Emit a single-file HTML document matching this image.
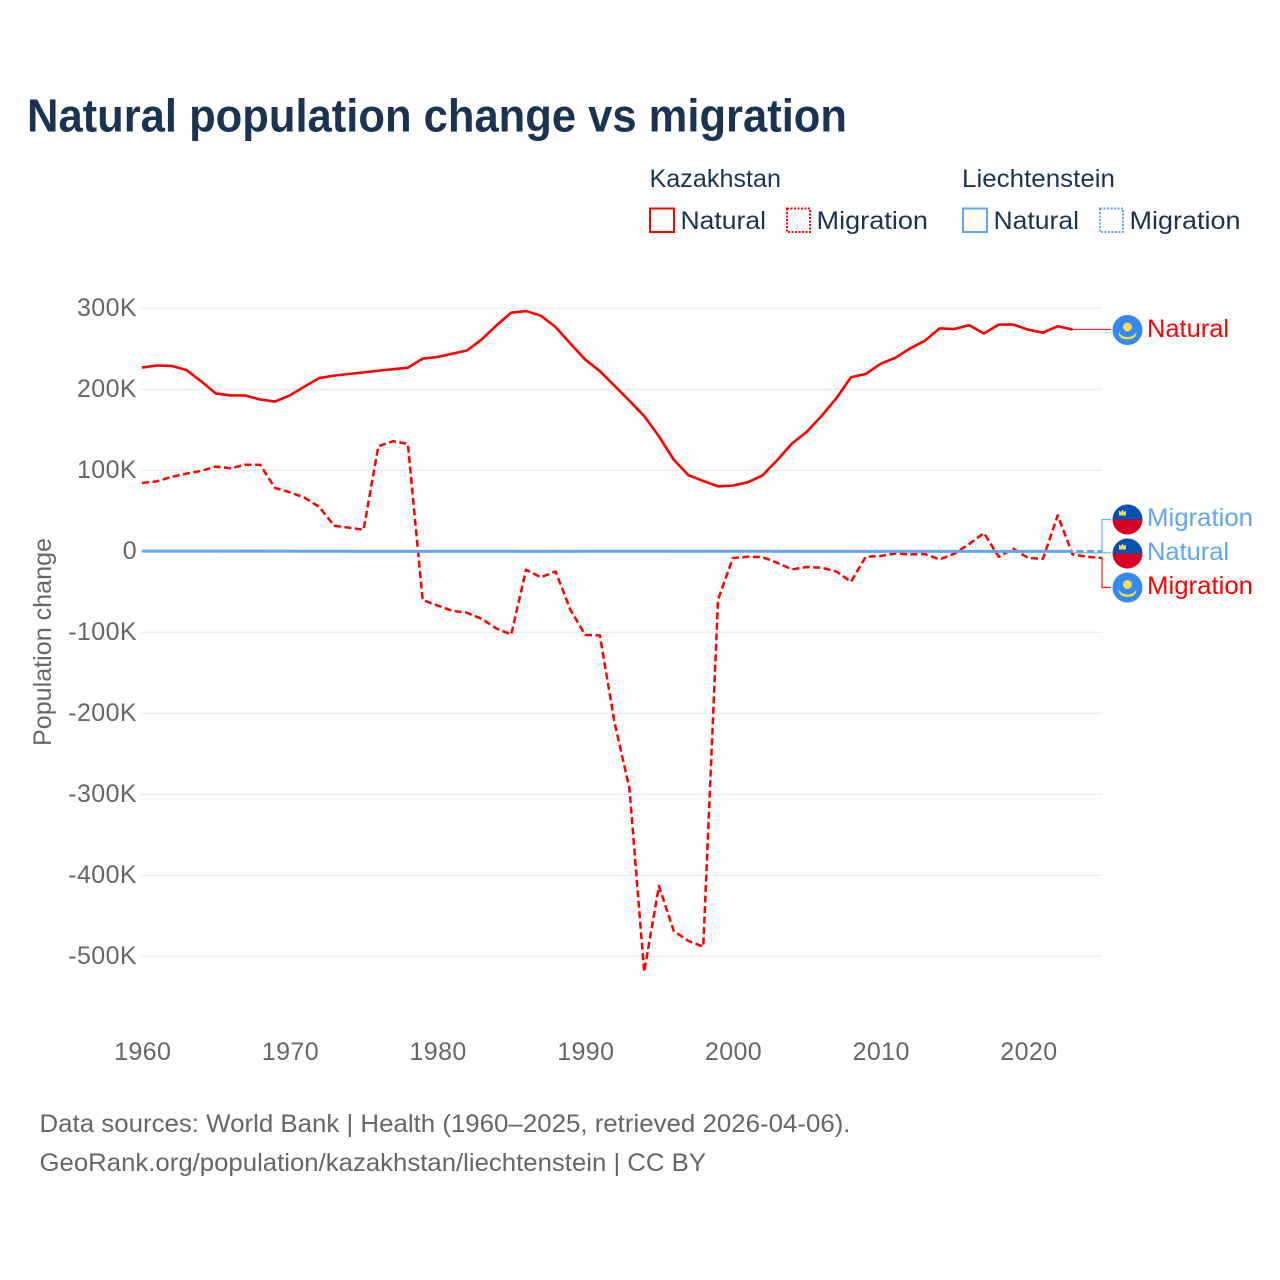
<!DOCTYPE html>
<html lang="en">
<head>
<meta charset="utf-8">
<title>Natural population change vs migration</title>
<style>
html,body{margin:0;padding:0;background:#fff;}
svg{display:block;font-family:"Liberation Sans",sans-serif;}
</style>
</head>
<body>
<svg id="chart" xmlns="http://www.w3.org/2000/svg" width="1280" height="1280" viewBox="0 0 1280 1280">
  <rect x="0" y="0" width="1280" height="1280" fill="#fff"/>
  <text x="27" y="131.500" font-size="46" font-weight="700" fill="#1a3353" textLength="820" lengthAdjust="spacingAndGlyphs">Natural population change vs migration</text>

  <g font-size="25" fill="#1a3353">
    <text x="649.500" y="187" textLength="131.500" lengthAdjust="spacingAndGlyphs">Kazakhstan</text>
    <text x="962" y="187" textLength="153" lengthAdjust="spacingAndGlyphs">Liechtenstein</text>
    <g>
      <rect x="650" y="208.500" width="24" height="23.500" fill="none" stroke="#ff0000" stroke-width="2"/>
      <text x="680.500" y="229" textLength="85.500" lengthAdjust="spacingAndGlyphs">Natural</text>
    </g>
    <g>
      <rect x="787" y="208.500" width="23" height="23.500" fill="none" stroke="#ff0000" stroke-width="2" stroke-dasharray="2,1.500"/>
      <text x="816.500" y="229" textLength="111.500" lengthAdjust="spacingAndGlyphs">Migration</text>
    </g>
    <g>
      <rect x="963" y="208.500" width="24" height="23.500" fill="none" stroke="#60a5f0" stroke-width="2"/>
      <text x="993.500" y="229" textLength="85.500" lengthAdjust="spacingAndGlyphs">Natural</text>
    </g>
    <g>
      <rect x="1100" y="208.500" width="23" height="23.500" fill="none" stroke="#60a5f0" stroke-width="2" stroke-dasharray="2,1.500"/>
      <text x="1129.500" y="229" textLength="111" lengthAdjust="spacingAndGlyphs">Migration</text>
    </g>
  </g>

  <g id="grid"></g>
  <g id="yticks"></g>
  <g id="xticks"></g>
  <text transform="translate(51,642) rotate(-90)" text-anchor="middle" font-size="25" fill="#666" textLength="208" lengthAdjust="spacingAndGlyphs">Population change</text>

  <g id="connectors"></g>
  <g id="series"></g>

  <defs>
    <clipPath id="flag-clip"><circle cx="0" cy="0" r="15"/></clipPath>
  </defs>
  <g>
    <g transform="translate(1127.500,330)">
      <circle r="15" fill="#338af3"/><circle cy="-3" r="4.500" fill="#ffda44"/><path d="M-9 2 Q-6 7 0 7 Q6 7 9 2 Q9 9 0 9.500 Q-9 9 -9 2Z" fill="#ffda44"/>
    </g>
    <text x="1147" y="337" font-size="25" fill="#ff0000" textLength="82" lengthAdjust="spacingAndGlyphs">Natural</text>
  </g>
  <g>
    <g transform="translate(1127.500,519.500)">
      <g clip-path="url(#flag-clip)"><rect x="-15" y="-15" width="30" height="15" fill="#0052b4"/><rect x="-15" y="0" width="30" height="15" fill="#d80027"/></g><path d="M-12.500-4h7v-5l-2 1.500-1.500-2.500-1.500 2.500-2-1.500z" fill="#ffda44" transform="translate(4,0)"/>
    </g>
    <text x="1147" y="526" font-size="25" fill="#60a5f0" textLength="106" lengthAdjust="spacingAndGlyphs">Migration</text>
  </g>
  <g>
    <g transform="translate(1127.500,553.500)">
      <g clip-path="url(#flag-clip)"><rect x="-15" y="-15" width="30" height="15" fill="#0052b4"/><rect x="-15" y="0" width="30" height="15" fill="#d80027"/></g><path d="M-12.500-4h7v-5l-2 1.500-1.500-2.500-1.500 2.500-2-1.500z" fill="#ffda44" transform="translate(4,0)"/>
    </g>
    <text x="1147" y="560" font-size="25" fill="#60a5f0" textLength="82" lengthAdjust="spacingAndGlyphs">Natural</text>
  </g>
  <g>
    <g transform="translate(1127.500,587.500)">
      <circle r="15" fill="#338af3"/><circle cy="-3" r="4.500" fill="#ffda44"/><path d="M-9 2 Q-6 7 0 7 Q6 7 9 2 Q9 9 0 9.500 Q-9 9 -9 2Z" fill="#ffda44"/>
    </g>
    <text x="1147" y="594" font-size="25" fill="#ff0000" textLength="106" lengthAdjust="spacingAndGlyphs">Migration</text>
  </g>

  <text x="39.500" y="1132" font-size="25" fill="#666" textLength="811" lengthAdjust="spacingAndGlyphs">Data sources: World Bank | Health (1960–2025, retrieved 2026-04-06).</text>
  <text x="39.500" y="1171" font-size="25" fill="#666" textLength="666.500" lengthAdjust="spacingAndGlyphs">GeoRank.org/population/kazakhstan/liechtenstein | CC BY</text>
</svg>
<script>
const startYear = 1960;
const yTickValues = [300, 200, 100, 0, -100, -200, -300, -400, -500];
const yTickLabels = ["300K", "200K", "100K", "0", "-100K", "-200K", "-300K", "-400K", "-500K"];
const xTickYears = [1960, 1970, 1980, 1990, 2000, 2010, 2020];

// All values in thousands of people, one per year from 1960.
const kazakhstanNatural = [227, 229.5, 229, 224, 210, 195, 192.5, 192.5, 187.5, 185,
  192.5, 203.5, 214, 217, 219, 221, 223, 225, 226.7, 238,
  240, 244, 248, 261.7, 279, 294.7, 296.7, 291, 277, 256.7,
  237, 222.5, 204.4, 186, 167, 142, 113.3, 94, 87, 80.3,
  81.2, 85.3, 93.6, 112.5, 133, 147.6, 167, 188.8, 215, 219,
  231.6, 239, 250.6, 260, 275.3, 274.5, 279.4, 269, 280, 280,
  273.7, 270, 278, 274];
const kazakhstanMigration = [84.5, 86.5, 92, 96, 99.4, 104.7, 102.6, 107, 107, 78.4,
  73, 66.4, 54.9, 31.8, 29.3, 26.8, 129.8, 136, 132.8, -60,
  -66.7, -73.3, -75.8, -83.2, -95.2, -102.6, -22.6, -32, -24.7, -72,
  -103, -103.8, -212, -292.5, -519, -413, -468.5, -481, -488, -59.7,
  -8.2, -6.6, -7, -14, -22.2, -19.3, -20.1, -24.7, -37.5, -6.6,
  -5.7, -2.5, -3.7, -3.2, -9.9, -2.8, 9, 22.7, -6.6, 3.3,
  -8.2, -9, 44.5, -3.7, -6.6, -8.2];
const liechtensteinNatural = [0.3, 0.3, 0.3, 0.3, 0.3, 0.3, 0.3, 0.3, 0.3, 0.3,
  0.3, 0.2, 0.2, 0.2, 0.2, 0.1, 0.1, 0.1, 0.1, 0.1,
  0.2, 0.2, 0.2, 0.2, 0.2, 0.2, 0.1, 0.1, 0.2, 0.1,
  0.2, 0.2, 0.2, 0.2, 0.2, 0.2, 0.2, 0.2, 0.2, 0.2,
  0.2, 0.2, 0.2, 0.1, 0.2, 0.1, 0.1, 0.1, 0.1, 0.1,
  0.1, 0.1, 0.1, 0.1, 0.1, 0.1, 0.1, 0.1, 0.1, 0.1,
  0.1, 0.1, 0.1, 0.1];
const liechtensteinMigration = [0.2, 0.2, 0.1, 0.2, 0.2, 0.1, 0.2, 0.3, 0.3, 0.2,
  0.1, 0.2, 0.2, 0.2, 0.1, 0, 0, 0, 0.1, 0,
  0.1, 0.1, 0, 0, 0.1, 0.1, 0.1, 0.1, 0.1, 0.2,
  0.2, 0.3, 0.2, 0.3, 0.2, 0.2, 0.1, 0.1, 0.1, 0.2,
  0.2, 0.3, 0.2, 0.1, 0.1, 0.1, 0.1, 0.2, 0.2, 0.2,
  0.1, 0.2, 0.2, 0.1, 0.1, 0.2, 0.2, 0.1, 0.1, 0.1,
  0.1, 0.2, 0.1, 0.2, 0.2, 0.2];

const SVG_NS = "http://www.w3.org/2000/svg";
const RED = "#ff0000";
const BLUE = "#60a5f0";

function xScale(year) {
  return 142 + (year - startYear) * 14.77;
}
function yScale(value) {
  return 551.4 - value * 0.81;
}
function linePath(values) {
  return values.map(function (v, i) {
    return (i ? "L" : "M") + xScale(startYear + i).toFixed(2) + " " + yScale(v).toFixed(2);
  }).join("");
}
function lastPoint(values) {
  const i = values.length - 1;
  return [xScale(startYear + i), yScale(values[i])];
}
function make(tag, attrs, parent) {
  const el = document.createElementNS(SVG_NS, tag);
  Object.keys(attrs).forEach(function (k) { el.setAttribute(k, attrs[k]); });
  parent.appendChild(el);
  return el;
}

const grid = document.getElementById("grid");
const yTicks = document.getElementById("yticks");
yTickValues.forEach(function (v, i) {
  const line = make("line", { x1: 141, x2: 1102, y1: yScale(v), y2: yScale(v), stroke: "#eeeeee", "stroke-width": 1.5 }, grid);
  
  
  const label = make("text", { x: 137, y: yScale(v) + 7.6, "text-anchor": "end", "font-size": 25, "letter-spacing": 0.4, fill: "#666" }, yTicks);
  
  
  label.textContent = yTickLabels[i];
});

const xTicks = document.getElementById("xticks");
xTickYears.forEach(function (year) {
  const label = make("text", { x: xScale(year) + 0.7, y: 1060, "text-anchor": "middle", "font-size": 25, "letter-spacing": 0.4, fill: "#666" }, xTicks);
  
  
  label.textContent = String(year);
});

const connectors = document.getElementById("connectors");
function connector(name, points, color) {
  const d = points.map(function (p, i) { return (i ? "L" : "M") + p[0] + " " + p[1]; }).join("");
  const path = make("path", { d: d, fill: "none", stroke: color, "stroke-width": 1.2, "stroke-opacity": 0.9 }, connectors);
  
  
}
const endKN = lastPoint(kazakhstanNatural);
const endKM = lastPoint(kazakhstanMigration);
const endLN = lastPoint(liechtensteinNatural);
const endLM = lastPoint(liechtensteinMigration);
connector('connector-kazakhstan-natural', [endKN, [1111, endKN[1]]], RED);
connector('connector-liechtenstein-migration', [endLM, [1102, 519.5], [1111, 519.5]], BLUE);
connector('connector-liechtenstein-natural', [[endLN[0], 552.8], [1111, 552.8]], BLUE);
connector('connector-kazakhstan-migration', [endKM, [1102, 587.5], [1111, 587.5]], RED);

const series = document.getElementById("series");
function drawLine(name, values, color, width, dash) {
  const path = make("path", { d: linePath(values), fill: "none", stroke: color, "stroke-width": width, "stroke-linejoin": "round" }, series);
  if (dash) path.setAttribute("stroke-dasharray", dash);
  
  
}
drawLine('line-kazakhstan-natural', kazakhstanNatural, RED, 2.6, null);
drawLine('line-kazakhstan-migration', kazakhstanMigration, RED, 2.5, "7,3.5");
drawLine('line-liechtenstein-migration', liechtensteinMigration, BLUE, 2.5, "7,3.5");
drawLine('line-liechtenstein-natural', liechtensteinNatural, BLUE, 3, null);
</script>
</body>
</html>
